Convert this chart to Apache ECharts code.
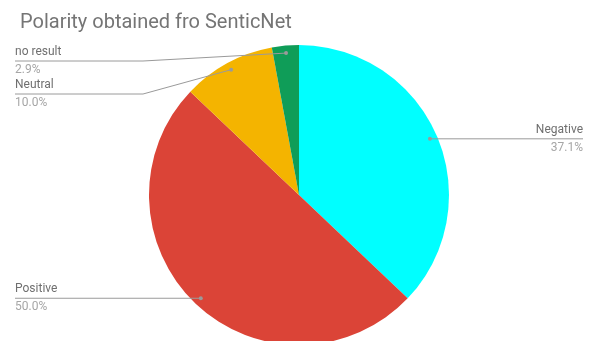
<!DOCTYPE html>
<html>
<head>
<meta charset="utf-8">
<script src="https://cdn.jsdelivr.net/npm/echarts@6/dist/echarts.min.js"></script>
<style>
  html, body { margin: 0; padding: 0; background: #ffffff; }
  #chart { width: 593px; height: 341px; }
</style>
</head>
<body>
<div id="chart"></div>
<script>
// Slice data, in clockwise order from 12 o'clock
const categories = ['Negative', 'Positive', 'Neutral', 'no result'];
const shares = [37.1, 50.0, 10.0, 2.9];
const sliceColors = ['#00FFFF', '#DB4437', '#F4B400', '#0F9D58'];
const chartTitle = 'Polarity obtained fro SenticNet';

// Pie geometry (pixels)
const CX = 299, CY = 195, R = 150;
const ANCHOR_R = R * 0.95;      // where each leader line starts, inside the slice
const LEFT_EDGE = 15, RIGHT_EDGE = 583;
// Row of the horizontal leader segment; null keeps it level with the anchor dot
const leaderRows = [null, null, 94, 61];
const LEADER_COLOR = '#9a9a9a';

const total = shares.reduce((a, b) => a + b, 0);
const anchors = [];
let acc = 0;
shares.forEach((v, i) => {
  const mid = (acc + v / 2) / total * Math.PI * 2;
  acc += v;
  const x = CX + ANCHOR_R * Math.sin(mid);
  const y = CY - ANCHOR_R * Math.cos(mid);
  const right = Math.sin(mid) > 0;
  const rowY = leaderRows[i] == null ? y : leaderRows[i];
  const bendX = leaderRows[i] == null ? x : (right ? CX + R + 6 : CX - R - 6);
  const endX = right ? RIGHT_EDGE : LEFT_EDGE;
  anchors.push({ x, y, right, rowY, bendX, endX });
});

const chart = echarts.init(document.getElementById('chart'), null, { renderer: 'canvas' });

// Leader lines and anchor dots drawn above the slices
const leaderGraphics = [];
anchors.forEach(a => {
  leaderGraphics.push({
    type: 'polyline',
    z: 100,
    silent: true,
    shape: { points: [[a.x, a.y], [a.bendX, a.rowY], [a.endX, a.rowY]] },
    style: { stroke: LEADER_COLOR, lineWidth: 1, fill: null }
  });
  leaderGraphics.push({
    type: 'circle',
    z: 101,
    silent: true,
    shape: { cx: a.x, cy: a.y, r: 2 },
    style: { fill: LEADER_COLOR }
  });
});

chart.setOption({
  backgroundColor: '#ffffff',
  animation: false,
  title: {
    text: chartTitle,
    left: 15,
    top: 8,
    textStyle: {
      fontFamily: 'Roboto',
      fontSize: 20,
      fontWeight: 'normal',
      color: '#757575'
    }
  },
  series: [{
    type: 'pie',
    center: [CX, CY],
    radius: [0, R],
    startAngle: 90,
    clockwise: true,
    avoidLabelOverlap: false,
    silent: true,
    data: categories.map((name, i) => ({
      name,
      value: shares[i],
      itemStyle: { color: sliceColors[i] }
    })),
    label: {
      show: true,
      position: 'outside',
      formatter: p => '{name|' + p.name + '}\n{pct|' + p.value.toFixed(1) + '%}',
      rich: {
        name: { fontFamily: 'Roboto', fontSize: 12, color: '#6f6f6f', lineHeight: 18 },
        pct: { fontFamily: 'Roboto', fontSize: 12, color: '#a6a6a6', lineHeight: 18 }
      }
    },
    labelLine: { show: false },
    labelLayout: function (params) {
      const a = anchors[params.dataIndex];
      return {
        x: a.endX,
        y: a.rowY,
        align: a.right ? 'right' : 'left',
        verticalAlign: 'middle'
      };
    }
  }],
  graphic: leaderGraphics
});
</script>
</body>
</html>
